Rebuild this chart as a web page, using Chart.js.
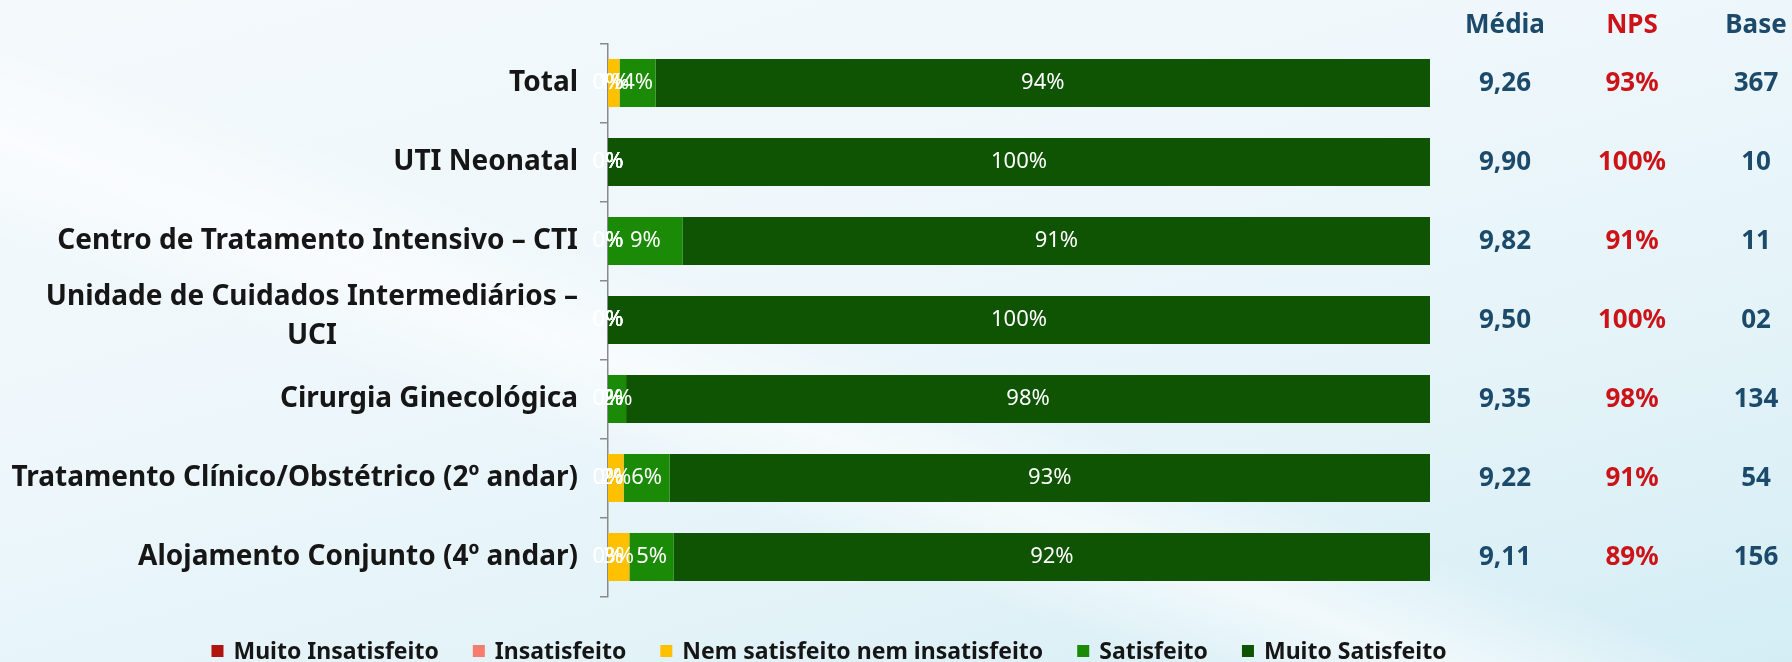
<!DOCTYPE html>
<html><head><meta charset="utf-8">
<script src="https://cdn.jsdelivr.net/npm/chart.js@4.4.1/dist/chart.umd.min.js"></script>
<style>
html,body{margin:0;padding:0;width:1792px;height:662px;overflow:hidden;}
body{background:
 linear-gradient(200deg, rgba(255,255,255,0) 52%, rgba(255,255,255,0.6) 60%, rgba(255,255,255,0) 68%),
 linear-gradient(165deg, #f4f9fc 0%, #eef7fb 40%, #e3f3f8 70%, #d4edf5 100%);}
#wrap{position:relative;width:1792px;height:662px;}
</style></head><body><div id="wrap"><canvas id="c" width="1792" height="662"></canvas></div>
<script>
const categories = ['Total', 'UTI Neonatal', 'Centro de Tratamento Intensivo – CTI', ['Unidade de Cuidados Intermediários –', 'UCI'], 'Cirurgia Ginecológica', 'Tratamento Clínico/Obstétrico (2º andar)', 'Alojamento Conjunto (4º andar)'];
const seriesNames = ['Muito Insatisfeito', 'Insatisfeito', 'Nem satisfeito nem insatisfeito', 'Satisfeito', 'Muito Satisfeito'];
const seriesColors = ['#b0140f', '#f67c6e', '#ffc000', '#1b8a06', '#0e5402'];
const muitoInsatisfeito = [0, 0, 0, 0, 0, 0, 0];
const insatisfeito = [0, 0, 0, 0, 0, 0, 0];
const nemSatisfeito = [1.4, 0, 0, 0, 0, 1.9, 2.6];
const satisfeito = [4.4, 0, 9.1, 0, 2.2, 5.6, 5.4];
const muitoSatisfeito = [94.2, 100, 90.9, 100, 97.8, 92.5, 92.0];
const tableHeaders = ['Média', 'NPS', 'Base'];
const media = ['9,26', '9,90', '9,82', '9,50', '9,35', '9,22', '9,11'];
const nps = ['93%', '100%', '91%', '100%', '98%', '91%', '89%'];
const base = ['367', '10', '11', '02', '134', '54', '156'];

const seriesValues = [muitoInsatisfeito, insatisfeito, nemSatisfeito, satisfeito, muitoSatisfeito];
const FONT = '"Noto Sans", "Open Sans", sans-serif';

const overlay = {
  id: 'overlay',
  afterDatasetsDraw(chart) {
    const ctx = chart.ctx;
    ctx.save();
    ctx.font = '22px ' + FONT;
    ctx.fillStyle = '#ffffff';
    ctx.textAlign = 'center';
    ctx.textBaseline = 'middle';
    chart.data.datasets.forEach((ds, di) => {
      const meta = chart.getDatasetMeta(di);
      meta.data.forEach((el, i) => {
        const v = ds.data[i];
        const x = (el.x + el.base) / 2;
        ctx.fillText(Math.round(v) + '%', x, el.y);
      });
    });
    ctx.restore();
  },
  afterDraw(chart) {
    const ctx = chart.ctx;
    const ys = chart.scales.y;
    ctx.save();
    // category labels
    ctx.font = 'bold 28px ' + FONT;
    ctx.fillStyle = '#161616';
    ctx.textBaseline = 'middle';
    const right = 578, lh = 39;
    categories.forEach((lab, i) => {
      const y = ys.getPixelForValue(i);
      const lines = Array.isArray(lab) ? lab : [lab];
      const maxW = Math.max(...lines.map(l => ctx.measureText(l).width));
      const y0 = y - (lines.length - 1) * lh / 2 - (lines.length > 1 ? 3 : 0);
      lines.forEach((l, k) => {
        if (lines.length > 1) { ctx.textAlign = 'center'; ctx.fillText(l, right - maxW / 2, y0 + k * lh); }
        else { ctx.textAlign = 'right'; ctx.fillText(l, right, y0); }
      });
    });
    // table
    const colX = [1505, 1632, 1756];
    const colColors = ['#1c4a6b', '#cc1318', '#1c4a6b'];
    const cols = [media, nps, base];
    ctx.textAlign = 'center';
    ctx.font = 'bold 26px ' + FONT;
    tableHeaders.forEach((h, c) => { ctx.fillStyle = colColors[c]; ctx.fillText(h, colX[c], 26); });
    cols.forEach((col, c) => {
      ctx.fillStyle = colColors[c];
      col.forEach((t, i) => ctx.fillText(t, colX[c], ys.getPixelForValue(i) + 1));
    });
    // legend
    ctx.font = 'bold 23px ' + FONT;
    const box = 12, gapBox = 10, gapItem = 34;
    const widths = seriesNames.map(n => box + gapBox + ctx.measureText(n).width);
    const total = widths.reduce((a, b) => a + b, 0) + gapItem * (seriesNames.length - 1);
    let x = 829 - total / 2;
    const ly = 651;
    ctx.textAlign = 'left';
    seriesNames.forEach((n, k) => {
      ctx.fillStyle = seriesColors[k];
      ctx.fillRect(x, ly - box / 2, box, box);
      ctx.fillStyle = '#161616';
      ctx.fillText(n, x + box + gapBox, ly + 1);
      x += widths[k] + gapItem;
    });
    ctx.restore();
  }
};

new Chart(document.getElementById('c'), {
  type: 'bar',
  data: {
    labels: categories,
    datasets: seriesNames.map((n, k) => ({
      label: n, data: seriesValues[k], backgroundColor: seriesColors[k], borderWidth: 0,
      barPercentage: 0.61, categoryPercentage: 1.0
    }))
  },
  options: {
    indexAxis: 'y', responsive: false, animation: false, devicePixelRatio: 1,
    layout: { padding: { top: 43.5, right: 362, bottom: 65.5, left: 0 } },
    plugins: { legend: { display: false }, tooltip: { enabled: false } },
    scales: {
      x: { stacked: true, min: 0, max: 100, display: false },
      y: {
        stacked: true,
        grid: { offset: true, drawOnChartArea: false, drawTicks: true, tickLength: 8, color: '#8a8a8a', lineWidth: 1.5 },
        border: { display: true, color: '#8a8a8a', width: 1.5 },
        ticks: { display: false },
        afterFit(s) { s.width = 608; }
      }
    }
  },
  plugins: [overlay]
});
</script></body></html>
